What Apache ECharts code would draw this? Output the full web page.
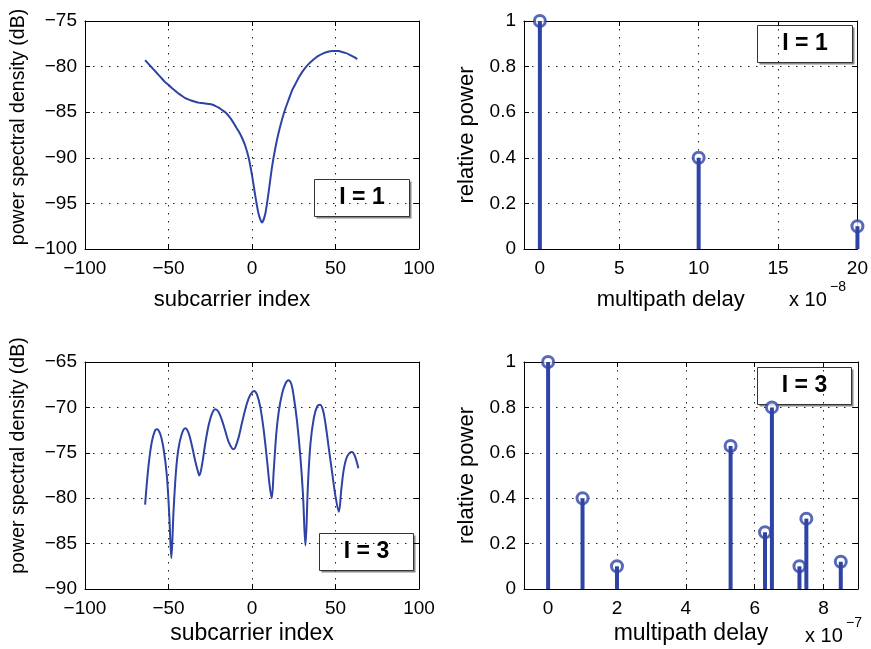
<!DOCTYPE html>
<html>
<head>
<meta charset="utf-8">
<script src="https://cdn.jsdelivr.net/npm/echarts@6/dist/echarts.min.js"></script>
<style>html,body{margin:0;padding:0;background:#fff;}#c{width:871px;height:649px;}</style>
</head>
<body>
<div id="c"></div>
<script>
// ---- data ----
const psd1Index = [-64,-62,-60,-58,-56,-54,-52,-50,-48,-46,-44,-42,-40,-38,-36,-34,-32,-30,-28,-26,-24,-22,-20,-18,-16,-14,-12,-10,-8,-6,-4,-2,0,2,4,6,8,10,12,14,16,18,20,22,24,26,28,30,32,34,36,38,40,42,44,46,48,50,52,54,56,58,60,62,63];
const psd1Value = [-79.3,-79.7,-80.1,-80.5,-80.9,-81.3,-81.7,-82.0,-82.35,-82.65,-82.95,-83.2,-83.45,-83.6,-83.75,-83.85,-83.95,-84.0,-84.05,-84.1,-84.15,-84.3,-84.5,-84.75,-85.0,-85.4,-85.9,-86.5,-87.1,-87.8,-88.7,-90.0,-91.9,-94.2,-96.2,-97.1,-96.1,-93.7,-91.0,-88.9,-87.2,-85.8,-84.6,-83.6,-82.6,-81.9,-81.2,-80.6,-80.1,-79.7,-79.35,-79.05,-78.8,-78.6,-78.45,-78.35,-78.3,-78.3,-78.3,-78.4,-78.5,-78.65,-78.85,-79.05,-79.2];

const psd3Index = [-64,-62,-60,-58,-57,-55,-53,-51,-49.5,-48.3,-47,-45.5,-44,-42,-40,-38,-36,-34,-32,-31.5,-30,-28,-26,-24,-22,-20,-18,-16,-14,-12,-11,-10,-8,-6,-4,-2,0,1.2,3,5,7,9,10.5,11.8,13,14.5,16,18,20,21.8,23.5,25,27,29,30.5,32,33.5,35,37,39,40.8,42.5,44,46,48,50,52,53.5,55,57,59.8,61.5,63.7];
const psd3Value = [-80.7,-76.5,-73.8,-72.5,-72.4,-72.9,-74.5,-77.5,-82,-86.6,-81.5,-77,-74.5,-72.9,-72.3,-72.8,-74.2,-75.9,-77.3,-77.5,-76.4,-74,-72,-70.7,-70.2,-70.5,-71.4,-72.6,-73.8,-74.5,-74.6,-74.4,-73.3,-71.7,-70.2,-69,-68.35,-68.2,-68.6,-70,-72.5,-75.8,-78.5,-80.0,-77,-73,-70.5,-68.5,-67.4,-67.0,-67.4,-68.8,-71.6,-75.5,-79.5,-85.2,-78.5,-74,-71.2,-69.9,-69.7,-70.3,-71.8,-74.5,-77.2,-79.8,-81.5,-79,-76.8,-75.4,-74.9,-75.3,-76.7];

const delay1 = [0, 10, 20];          // x 1e-8
const power1 = [1.0, 0.4, 0.1];
const delay3 = [0, 1, 2, 5.3, 6.3, 6.5, 7.3, 7.5, 8.5];   // x 1e-7
const power3 = [1.0, 0.4, 0.1, 0.63, 0.25, 0.8, 0.1, 0.31, 0.12];

const xTicksIndex = [-100, -50, 0, 50, 100];
const xTicksDelay1 = [0, 5, 10, 15, 20];
const xTicksDelay3 = [0, 2, 4, 6, 8];

// ---- styling ----
const FONT = '"Liberation Sans", Arial, sans-serif';
const BLUE = '#2f43a4';
const gridDefs = [
  {left: 85, top: 21, width: 334, height: 228},
  {left: 524, top: 21, width: 334, height: 228},
  {left: 85, top: 362, width: 334, height: 227},
  {left: 524, top: 362, width: 334, height: 227}
];
const fmt = v => String(+v.toFixed(4)).replace('-', '\u2212');
const split = {show: true, lineStyle: {color: '#222', type: [1.5, 6.5], width: 1}};
const line = {show: true, onZero: false, lineStyle: {color: '#000', width: 1}};
const tick = {show: true, inside: true, length: 5, lineStyle: {color: '#000'}};

const xAxes = [], yAxes = [];
function addX(g, min, max, custom, name, nameSize, nameGap, pad) {
  const main = {type: 'value', gridIndex: g, min: min, max: max, position: 'bottom',
    axisLine: line, splitLine: split,
    axisTick: Object.assign({}, tick, {customValues: custom}),
    axisLabel: {customValues: custom, formatter: fmt, color: '#000', fontFamily: FONT, fontSize: 19, margin: 10, showMinLabel: true, showMaxLabel: true},
    name: name, nameLocation: 'middle', nameGap: nameGap,
    nameTextStyle: {color: '#000', fontFamily: FONT, fontSize: nameSize, padding: pad}};
  xAxes.push(main);
  xAxes.push({type: 'value', gridIndex: g, min: min, max: max, position: 'top',
    axisLine: line, splitLine: {show: false},
    axisTick: Object.assign({}, tick, {customValues: custom}),
    axisLabel: {show: false, customValues: custom}});
}
function addY(g, min, max, interval, name, nameSize, nameGap, pad) {
  yAxes.push({type: 'value', gridIndex: g, min: min, max: max, interval: interval, position: 'left',
    axisLine: line, splitLine: split, axisTick: tick,
    axisLabel: {formatter: fmt, color: '#000', fontFamily: FONT, fontSize: 19, margin: 8, showMinLabel: true, showMaxLabel: true},
    name: name, nameLocation: 'middle', nameGap: nameGap,
    nameTextStyle: {color: '#000', fontFamily: FONT, fontSize: nameSize, padding: pad}});
  yAxes.push({type: 'value', gridIndex: g, min: min, max: max, interval: interval, position: 'right',
    axisLine: line, splitLine: {show: false}, axisTick: tick, axisLabel: {show: false}});
}
addX(0, -100, 100, xTicksIndex, 'subcarrier index', 22, 40, [0, 40, 0, 0]);
addY(0, -100, -75, 5, 'power spectral density (dB)', 19.5, 56, [0, 0, 0, 16]);
addX(1, -1, 20, xTicksDelay1, 'multipath delay', 22, 40, [0, 40, 0, 0]);
addY(1, 0, 1, 0.2, 'relative power', 22, 46, 0);
addX(2, -100, 100, xTicksIndex, 'subcarrier index', 23, 33, 0);
addY(2, -90, -65, 5, 'power spectral density (dB)', 19.5, 56, [0, 0, 0, 40]);
addX(3, -0.7, 9, xTicksDelay3, 'multipath delay', 23, 33, 0);
addY(3, 0, 1, 0.2, 'relative power', 22, 46, 0);

const zip = (a, b) => a.map((x, i) => [x, b[i]]);
const series = [
  {type: 'line', xAxisIndex: 0, yAxisIndex: 0, data: zip(psd1Index, psd1Value), smooth: 0.25, showSymbol: false,
    lineStyle: {color: BLUE, width: 2}},
  {type: 'line', xAxisIndex: 4, yAxisIndex: 4, data: zip(psd3Index, psd3Value), smooth: 0.35, showSymbol: false,
    lineStyle: {color: BLUE, width: 2}},
];
[[2, delay1, power1], [6, delay3, power3]].forEach(([ax, d, p]) => {
  series.push({type: 'scatter', xAxisIndex: ax, yAxisIndex: ax, data: zip(d, p), symbol: 'circle', symbolSize: 11,
    itemStyle: {color: '#fff', borderColor: BLUE, borderWidth: 3}, z: 3});
  series.push({type: 'bar', xAxisIndex: ax, yAxisIndex: ax, data: zip(d, p), barWidth: 4,
    itemStyle: {color: BLUE}, z: 4});
});

function legendBox(x, y, w, h, label) {
  return {type: 'group', left: x, top: y, z: 100, children: [
    {type: 'rect', shape: {x: 2, y: 2, width: w, height: h}, style: {fill: '#888'}},
    {type: 'rect', shape: {x: 0, y: 0, width: w, height: h}, style: {fill: '#fff', stroke: '#333', lineWidth: 1}},
    {type: 'text', x: w / 2, y: h / 2, style: {text: label, fill: '#000', font: 'bold 23px ' + FONT, align: 'center', verticalAlign: 'middle'}}
  ]};
}
const graphic = [
  legendBox(314, 179, 95, 37, 'I = 1'),
  legendBox(757, 25, 95, 37, 'I = 1'),
  legendBox(319, 533, 94, 37, 'I = 3'),
  legendBox(757, 367, 94, 37, 'I = 3'),
  {type: 'text', left: 789, top: 290, style: {text: 'x 10', fill: '#000', font: '20px ' + FONT}},
  {type: 'text', left: 830, top: 280, style: {text: '\u22128', fill: '#000', font: '14px ' + FONT}},
  {type: 'text', left: 805, top: 626, style: {text: 'x 10', fill: '#000', font: '20px ' + FONT}},
  {type: 'text', left: 846, top: 616, style: {text: '\u22127', fill: '#000', font: '14px ' + FONT}}
];

const chart = echarts.init(document.getElementById('c'), null, {renderer: 'canvas'});
chart.setOption({
  backgroundColor: '#fff',
  animation: false,
  grid: gridDefs,
  xAxis: xAxes,
  yAxis: yAxes,
  series: series,
  graphic: graphic
});
</script>
</body>
</html>
